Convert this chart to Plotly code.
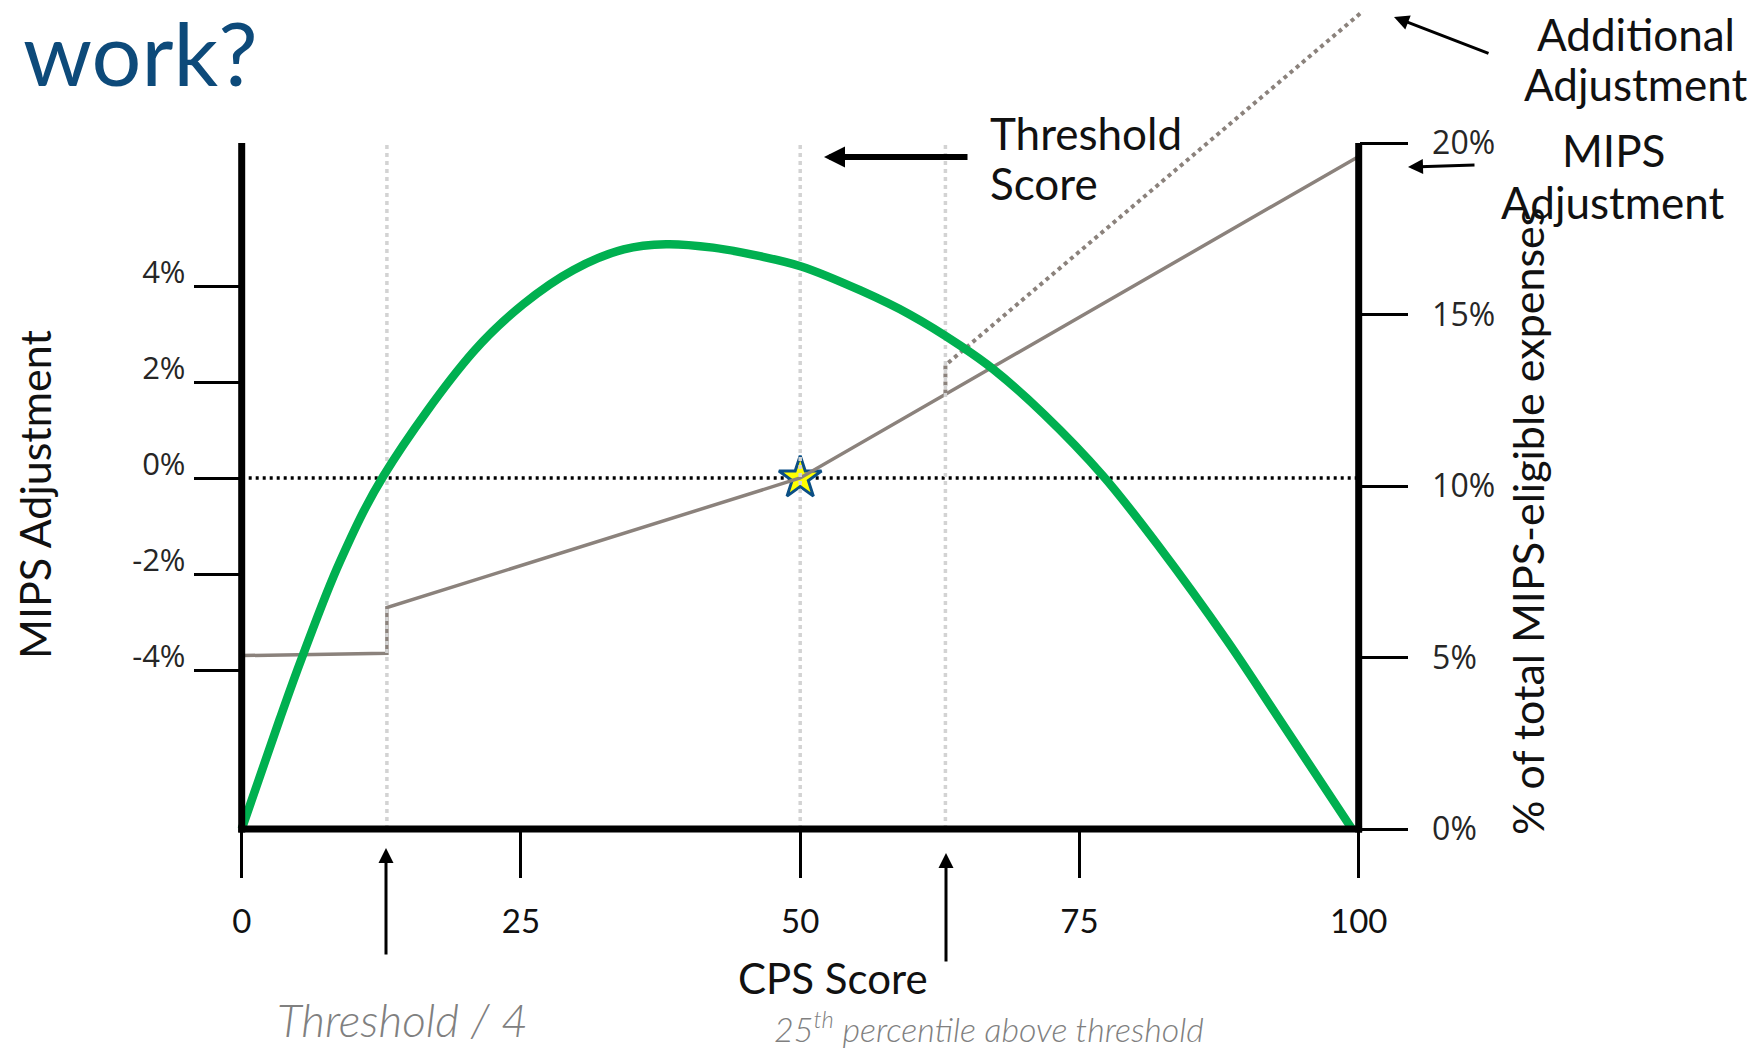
import plotly.graph_objects as go

# ---------------- data ----------------
# CPS score distribution (% of total MIPS-eligible expenses), right axis
cps_curve = [0, 3.4, 5.4, 8.8, 12.7, 20.7, 25.2, 29.7, 34.2, 38.0, 42.2,
             46.4, 50.1, 55.4, 59.8, 64.3, 67.3, 71.8, 77.1, 82.2, 88.2, 92.7, 99.4]
expense_share = [0, 3.2, 5.0, 7.8, 10.3, 13.9, 15.3, 16.3, 16.9, 17.05, 16.95,
                 16.7, 16.4, 15.7, 15.0, 14.1, 13.4, 12.1, 10.3, 8.2, 5.5, 3.3, 0]

# MIPS adjustment (%) by CPS score, left axis
adj_score = [0, 13, 13, 50, 100]
adj_value = [-3.7, -3.65, -2.7, 0, 6.7]

# additional adjustment above the 25th percentile
extra_score = [63, 63, 100.4]
extra_value = [1.76, 2.35, 9.73]

# reference scores: threshold / 4, threshold, 25th percentile above threshold
ref_scores = [13, 50, 63]
threshold_score = 50
threshold_adj = 0

x_ticks = [0, 25, 50, 75, 100]
x_labels = ["0", "25", "50", "75", "100"]
left_ticks = [-4, -2, 0, 2, 4]
left_labels = ["-4%", "-2%", "0%", "2%", "4%"]
right_ticks = [0, 5, 10, 15, 20]
right_labels = ["0%", "5%", "10%", "15%", "20%"]

# ---------------- geometry ----------------
W, H = 1763, 1050
X0_PX, X_SCALE = 241.7, 11.17        # px of score 0, px per score point
Y_ZERO_PX, Y_SCALE = 478.0, 48.0     # left axis: px of 0%, px per 1%
Y2_ZERO_PX, Y2_SCALE = 829.0, 34.3   # right axis: px of 0%, px per 1%

x_range = [-X0_PX / X_SCALE, (W - X0_PX) / X_SCALE]
y_range = [(Y_ZERO_PX - H) / Y_SCALE, Y_ZERO_PX / Y_SCALE]
y2_range = [(Y2_ZERO_PX - H) / Y2_SCALE, Y2_ZERO_PX / Y2_SCALE]


def px(x):
    return x / W


def py(y):
    return 1 - y / H


GREEN = "#00b050"
GRAY = "#8b827c"
GUIDE = "#d3d3d3"
LABEL_FONT = "Lato"
TICK_FONT = "Open Sans"

fig = go.Figure()

# vertical guide lines at the reference scores
for s in ref_scores:
    fig.add_trace(go.Scatter(
        x=[s, s], y=[0, 20], yaxis="y2", mode="lines",
        line=dict(color=GUIDE, width=3.5, dash="4px,4px"),
        hoverinfo="skip", showlegend=False))

# zero-adjustment reference line
fig.add_trace(go.Scatter(
    x=[x_ticks[0], x_ticks[-1]], y=[0, 0], mode="lines",
    line=dict(color="black", width=3.5, dash="3px,4px"),
    hoverinfo="skip", showlegend=False))

# threshold marker
fig.add_trace(go.Scatter(
    x=[threshold_score], y=[threshold_adj], mode="markers",
    marker=dict(symbol="star", size=32, color="#ffff00",
                line=dict(color="#0b4f85", width=3)),
    hoverinfo="skip", showlegend=False))

# MIPS adjustment line
fig.add_trace(go.Scatter(
    x=adj_score, y=adj_value, mode="lines",
    line=dict(color=GRAY, width=3.5),
    hoverinfo="skip", showlegend=False))

# additional adjustment (dotted)
fig.add_trace(go.Scatter(
    x=extra_score, y=extra_value, mode="lines",
    line=dict(color=GRAY, width=4, dash="4px,4px"),
    hoverinfo="skip", showlegend=False))

# CPS score distribution
fig.add_trace(go.Scatter(
    x=cps_curve, y=expense_share, yaxis="y2", mode="lines",
    line=dict(color=GREEN, width=8.5, shape="spline", smoothing=1.0),
    hoverinfo="skip", showlegend=False))

# chart frame: left, right and bottom axis lines
frame = dict(type="line", xref="x", yref="y2", layer="above",
             line=dict(color="black", width=7))
fig.add_shape(x0=0, x1=0, y0=-0.1, y1=20, **frame)
fig.add_shape(x0=100, x1=100, y0=-0.1, y1=20, **frame)
fig.add_shape(x0=-0.3, x1=100.3, y0=0, y1=0, **frame)

# ---------------- text ----------------
def label(text, x, y, size=44, color="#111111", angle=0, xanchor="center",
          yanchor="middle", weight=400):
    return dict(text=text, x=px(x), y=py(y), xref="paper", yref="paper",
                showarrow=False, textangle=angle, xanchor=xanchor,
                yanchor=yanchor, align="left" if xanchor == "left" else "center",
                borderpad=0,
                font=dict(family=LABEL_FONT, size=size, color=color, weight=weight))


annotations = [
    label("work?", 22, 52, size=88, color="#0d4a7a", xanchor="left"),
    label("Threshold", 989, 133, xanchor="left"),
    label("Score", 989, 183, xanchor="left"),
    label("Additional", 1636, 34),
    label("Adjustment", 1636, 84),
    label("MIPS", 1613, 150),
    label("Adjustment", 1613, 202),
    label("MIPS Adjustment", 34, 495, size=43, angle=-90),
    label("% of total MIPS-eligible expenses", 1527, 522, size=43, angle=-90),
    label("CPS Score", 833, 978, size=42),
    label("<i>Threshold / 4</i>", 402, 1019, size=46, color="#808080", weight=300),
    label("<i>25<sup>th</sup> percentile above threshold</i>", 989, 1050, size=34,
          color="#808080", yanchor="bottom", weight=300),
]

# arrows: (head x, head y, tail dx, tail dy, width, size)
arrows = [
    (824, 157, 145, 0, 6, 0.7),
    (1394, 17, 96, 37, 3, 1.0),
    (1408, 167, 68, -2, 3, 1.0),
    (386, 848, 0, 108, 3, 1.0),
    (946, 853, 0, 110, 3, 1.0),
]
for hx, hy, dx, dy, w, s in arrows:
    annotations.append(dict(
        text="", x=px(hx), y=py(hy), xref="paper", yref="paper",
        ax=dx, ay=dy, axref="pixel", ayref="pixel",
        showarrow=True, arrowhead=2, arrowsize=s, arrowwidth=w,
        arrowcolor="black", standoff=0, startstandoff=0))

fig.update_layout(
    width=W, height=H,
    margin=dict(l=0, r=0, t=0, b=0),
    paper_bgcolor="white", plot_bgcolor="white",
    showlegend=False,
    annotations=annotations,
    xaxis=dict(
        domain=[0, 1], range=x_range, anchor="free", position=(H - Y2_ZERO_PX) / H,
        showgrid=False, zeroline=False, showline=False,
        tickmode="array", tickvals=x_ticks, ticktext=x_labels,
        ticks="outside", ticklen=48, tickwidth=3, tickcolor="black",
        ticklabelstandoff=15,
        tickfont=dict(family=LABEL_FONT, size=33, color="#111111", weight=400),
        fixedrange=True),
    yaxis=dict(
        domain=[0, 1], range=y_range, anchor="free", position=X0_PX / W,
        showgrid=False, zeroline=False, showline=False,
        tickmode="array", tickvals=left_ticks, ticktext=left_labels,
        ticks="outside", ticklen=48, tickwidth=3, tickcolor="black",
        ticklabelstandoff=2, ticklabelshift=-14,
        tickfont=dict(family=TICK_FONT, size=31, color="#262626", weight=400),
        fixedrange=True),
    yaxis2=dict(
        domain=[0, 1], range=y2_range, anchor="free", overlaying="y", side="right",
        position=(X0_PX + 100 * X_SCALE) / W,
        showgrid=False, zeroline=False, showline=False,
        tickmode="array", tickvals=right_ticks, ticktext=right_labels,
        ticks="outside", ticklen=48, tickwidth=3, tickcolor="black",
        ticklabelstandoff=18,
        tickfont=dict(family=TICK_FONT, size=32, color="#262626", weight=400),
        fixedrange=True),
)

fig.write_html("out.html")
